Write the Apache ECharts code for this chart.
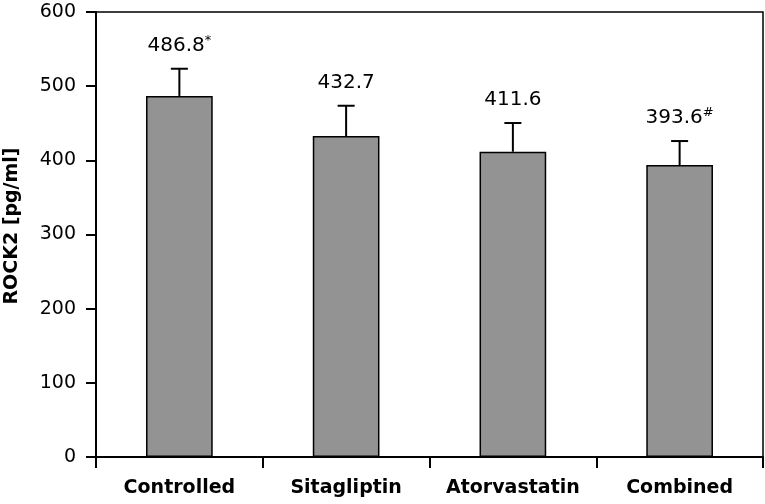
<!DOCTYPE html>
<html><head><meta charset="utf-8">
<script src="https://cdn.jsdelivr.net/npm/echarts@6/dist/echarts.min.js"></script>
<style>html,body{margin:0;padding:0;background:#fff}#c{width:765px;height:504px}</style>
</head><body><div id="c"></div>
<script>
var categories = ['Controlled', 'Sitagliptin', 'Atorvastatin', 'Combined'];
var means = [486.8, 432.7, 411.6, 393.6];
var upperErr = [523.5, 473.6, 450.3, 426.0];
var marks = ['*', '', '', '#'];
var yTicks = [0, 100, 200, 300, 400, 500, 600];

var FONT = '"DejaVu Sans", sans-serif';
var chart = echarts.init(document.getElementById('c'));
chart.setOption({
  animation: false,
  grid: {left: 96, right: 2, top: 12, bottom: 47, show: true, borderColor: '#000', borderWidth: 1.5,
         containLabel: false, outerBoundsMode: 'none'},
  xAxis: {
    type: 'category', data: categories,
    axisLine: {lineStyle: {color: '#000', width: 2}},
    axisTick: {show: true, length: 11, inside: false, lineStyle: {color: '#000', width: 2}},
    axisLabel: {color: '#000', fontFamily: FONT, fontSize: 19, fontWeight: 'bold', margin: 22, interval: 0}
  },
  yAxis: {
    type: 'value', min: yTicks[0], max: yTicks[yTicks.length - 1], interval: 100,
    name: 'ROCK2 [pg/ml]', nameLocation: 'middle', nameGap: 74,
    nameTextStyle: {color: '#000', fontFamily: FONT, fontSize: 19, fontWeight: 'bold', padding: [0, 0, 0, 17]},
    axisLine: {show: true, lineStyle: {color: '#000', width: 2}},
    axisTick: {show: true, length: 10, lineStyle: {color: '#000', width: 2}},
    axisLabel: {color: '#000', fontFamily: FONT, fontSize: 19, margin: 20},
    splitLine: {show: false}
  },
  series: [
    {
      type: 'bar', data: means, barWidth: '40%',
      itemStyle: {color: '#939393', borderColor: '#000', borderWidth: 1.5},
      z: 2
    },
    {
      type: 'custom', z: 3,
      data: categories.map(function (c, i) { return [i, means[i], upperErr[i]]; }),
      renderItem: function (params, api) {
        var i = api.value(0);
        var top = api.coord([i, api.value(2)]);
        var base = api.coord([i, api.value(1)]);
        var m = marks[i];
        return {
          type: 'group',
          children: [
            {type: 'line', shape: {x1: top[0], y1: top[1], x2: base[0], y2: base[1]}, style: {stroke: '#000', lineWidth: 2}},
            {type: 'line', shape: {x1: top[0] - 8.5, y1: top[1], x2: top[0] + 8.5, y2: top[1]}, style: {stroke: '#000', lineWidth: 2}},
            {type: 'text', x: top[0], y: top[1] - 23,
              style: {
                text: '{a|' + means[i].toFixed(1) + '}' + (m ? '{s|' + m + '}' : ''),
                align: 'center', verticalAlign: 'middle',
                rich: {
                  a: {fontFamily: FONT, fontSize: 20, fill: '#000', lineHeight: 24},
                  s: {fontFamily: FONT, fontSize: 13, fill: '#000', lineHeight: 24, verticalAlign: 'top', padding: [0, 0, 8, 0]}
                }
              }}
          ]
        };
      }
    }
  ]
});
</script></body></html>
